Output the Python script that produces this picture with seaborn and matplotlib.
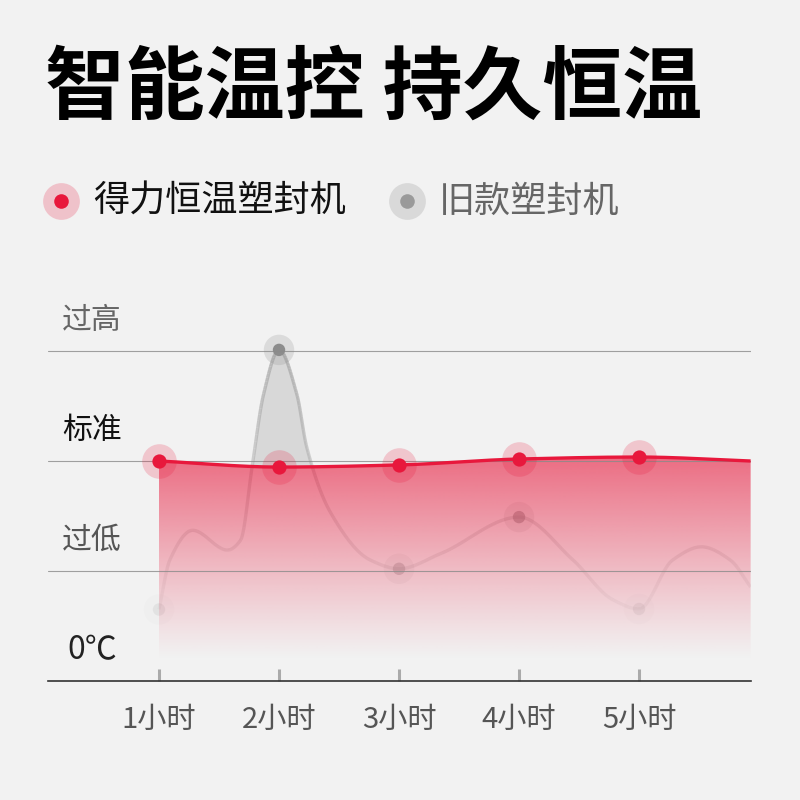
"""
智能温控 持久恒温 - temperature comparison chart
"""

import numpy as np
import pandas as pd
import matplotlib
matplotlib.use('Agg')
import matplotlib.pyplot as plt
import seaborn as sns
from matplotlib.path import Path
from matplotlib.patches import PathPatch
from matplotlib.collections import LineCollection
from matplotlib.colors import to_rgba

# ---- data ----
hours = [1, 2, 3, 4, 5]
hour_labels = ['1小时', '2小时', '3小时', '4小时', '5小时']
level_labels = ['0℃', '过低', '标准', '过高']
level_values = [0, 1, 2, 3]

# deli constant-temperature laminator (red)
new_x = [1.0, 2.0, 3.0, 4.0, 5.0, 5.93]
new_y = [2.00, 1.945, 1.964, 2.018, 2.036, 2.00]

# old laminator (grey), knots
old_x = [1.0, 1.09, 1.28, 1.57, 1.68, 1.78, 1.87, 2.0, 2.15, 2.23, 2.43, 2.76,
         3.0, 3.35, 4.0, 4.45, 4.78, 5.0, 5.28, 5.52, 5.76, 5.93]
old_y = [0.65, 1.10, 1.37, 1.19, 1.28, 1.98, 2.60, 3.01, 2.60, 2.13, 1.53, 1.10,
         1.02, 1.16, 1.49, 1.10, 0.74, 0.655, 1.10, 1.22, 1.10, 0.855]
old_pts_y = [0.65, 3.01, 1.02, 1.49, 0.655]

RED = '#e8183c'
GREY = '#8c8c8c'
BG = '#f2f2f2'


def pchip(xk, yk, xs):
    """monotone cubic curve through the knots (for a smooth line)"""
    xk = np.asarray(xk, float)
    yk = np.asarray(yk, float)
    h = np.diff(xk)
    d = np.diff(yk) / h
    n = len(xk)
    m = np.zeros(n)
    m[0], m[-1] = d[0], d[-1]
    for k in range(1, n - 1):
        if d[k - 1] * d[k] <= 0:
            m[k] = 0
        else:
            w1 = 2 * h[k] + h[k - 1]
            w2 = h[k] + 2 * h[k - 1]
            m[k] = (w1 + w2) / (w1 / d[k - 1] + w2 / d[k])
    idx = np.clip(np.searchsorted(xk, xs) - 1, 0, n - 2)
    t = (xs - xk[idx]) / h[idx]
    h00 = 2 * t**3 - 3 * t**2 + 1
    h10 = t**3 - 2 * t**2 + t
    h01 = -2 * t**3 + 3 * t**2
    h11 = t**3 - t**2
    return (h00 * yk[idx] + h10 * h[idx] * m[idx]
            + h01 * yk[idx + 1] + h11 * h[idx] * m[idx + 1])


sns.set_theme(style='white', rc={'axes.facecolor': BG, 'figure.facecolor': BG})
plt.rcParams['font.family'] = ['Noto Sans CJK SC', 'DejaVu Sans']

fig = plt.figure(figsize=(8, 8), dpi=100)
ax = fig.add_axes([0.06, 0.14875, 0.87875, 0.47625])
ax.set_xlim(0.075, 5.933)
ax.set_ylim(0, 3.4636)

xs = np.linspace(1.0, 5.93, 600)
red_s = pchip(new_x, new_y, xs)
grey_s = pchip(old_x, old_y, xs)

# grey shading where the old machine overshoots
ax.fill_between(xs, grey_s, red_s, where=grey_s > red_s, color='#cdcdcd',
                alpha=0.7, lw=0, zorder=1)

# grey line, fading out towards the bottom
pts = np.column_stack([xs, grey_s])
segs = np.stack([pts[:-1], pts[1:]], axis=1)
mid = (grey_s[:-1] + grey_s[1:]) / 2
alphas = np.clip(0.8 * (mid - 0.4) / 2.5, 0.07, 0.8)
seg_cols = [to_rgba('#ababab', a) for a in alphas]
ax.add_collection(LineCollection(segs, colors=seg_cols, linewidths=2.4, zorder=2))

# grey points (also fading)
df_old = pd.DataFrame({'hour': hours, 'val': old_pts_y})
pt_alpha = [0.12, 1.0, 0.35, 0.55, 0.12]
ax.scatter(df_old['hour'], df_old['val'], s=480,
           c=[to_rgba(GREY, a * 0.22) for a in pt_alpha], lw=0, zorder=3)
ax.scatter(df_old['hour'], df_old['val'], s=80,
           c=[to_rgba(GREY, a) for a in pt_alpha], lw=0, zorder=3)

# red gradient area
verts = np.vstack([[xs[0], 0], np.column_stack([xs, red_s]), [xs[-1], 0], [xs[0], 0]])
clip = PathPatch(Path(verts), facecolor='none', edgecolor='none')
ax.add_patch(clip)
yy = np.linspace(2.1, 0, 300)
fade = np.clip((yy - 0.19) / (2.05 - 0.19), 0, 1) ** 1.1 * 0.62
grad = np.zeros((300, 1, 4))
grad[..., :3] = to_rgba(RED)[:3]
grad[:, 0, 3] = fade
im = ax.imshow(grad, extent=[xs[0], xs[-1], 0, 2.1], aspect='auto',
               origin='upper', zorder=4, interpolation='bilinear')
im.set_clip_path(clip)

# gridlines on top of the area
for lv in level_values[1:]:
    ax.axhline(lv, color='#8a8a8a', lw=0.8, alpha=0.8, zorder=5)

# red line + points
ax.plot(xs, red_s, color=RED, lw=2.4, zorder=6, solid_capstyle='butt')
df_new = pd.DataFrame({'hour': hours, 'val': new_y[:5]})
sns.scatterplot(data=df_new, x='hour', y='val', s=620, color=RED, alpha=0.2,
                linewidth=0, ax=ax, zorder=7, legend=False)
sns.scatterplot(data=df_new, x='hour', y='val', s=105, color=RED,
                linewidth=0, ax=ax, zorder=8, legend=False)

# axes styling
for side in ['top', 'left', 'right']:
    ax.spines[side].set_visible(False)
ax.spines['bottom'].set_color('#333333')
ax.spines['bottom'].set_linewidth(1.2)
ax.set_xticks(hours)
ax.set_xticklabels(hour_labels, fontsize=21, color='#555555')
ax.tick_params(axis='x', direction='in', length=9, width=2.2, color='#aaaaaa',
               pad=17, bottom=True)
ax.set_yticks([])
ax.set_xlabel('')
ax.set_ylabel('')

level_colors = ['#222222', '#555555', '#111111', '#666666']
for lv, lab, col in zip(level_values, level_labels, level_colors):
    if lab == '0℃':
        ax.text(0.027, lv + 0.28, lab, transform=ax.get_yaxis_transform(),
                fontsize=23, color=col, va='center', ha='left')
    else:
        ax.text(0.02, lv + 0.28, lab, transform=ax.get_yaxis_transform(),
                fontsize=21.5, color=col, va='center', ha='left')

# title and legend in pixel space
top = fig.add_axes([0, 0, 1, 1], zorder=-1)
top.set_xlim(0, 800)
top.set_ylim(800, 0)
top.axis('off')
top.patch.set_alpha(0)
top.text(45, 89, '智能温控 持久恒温', fontsize=57.5, fontweight='bold',
         color='#000000', va='center', ha='left')

top.scatter([61], [201], s=700, color=RED, alpha=0.22, lw=0)
top.scatter([61], [201], s=110, color=RED, lw=0)
top.text(93, 202, '得力恒温塑封机', fontsize=26, fontweight='medium',
         color='#111111', va='center', ha='left')
top.scatter([407], [201], s=700, color='#d9d9d9', lw=0)
top.scatter([407], [201], s=110, color='#9a9a9a', lw=0)
top.text(439, 202, '旧款塑封机', fontsize=26, fontweight='medium',
         color='#666666', va='center', ha='left')

plt.savefig('out.png', dpi=100, facecolor=BG)
plt.close()
